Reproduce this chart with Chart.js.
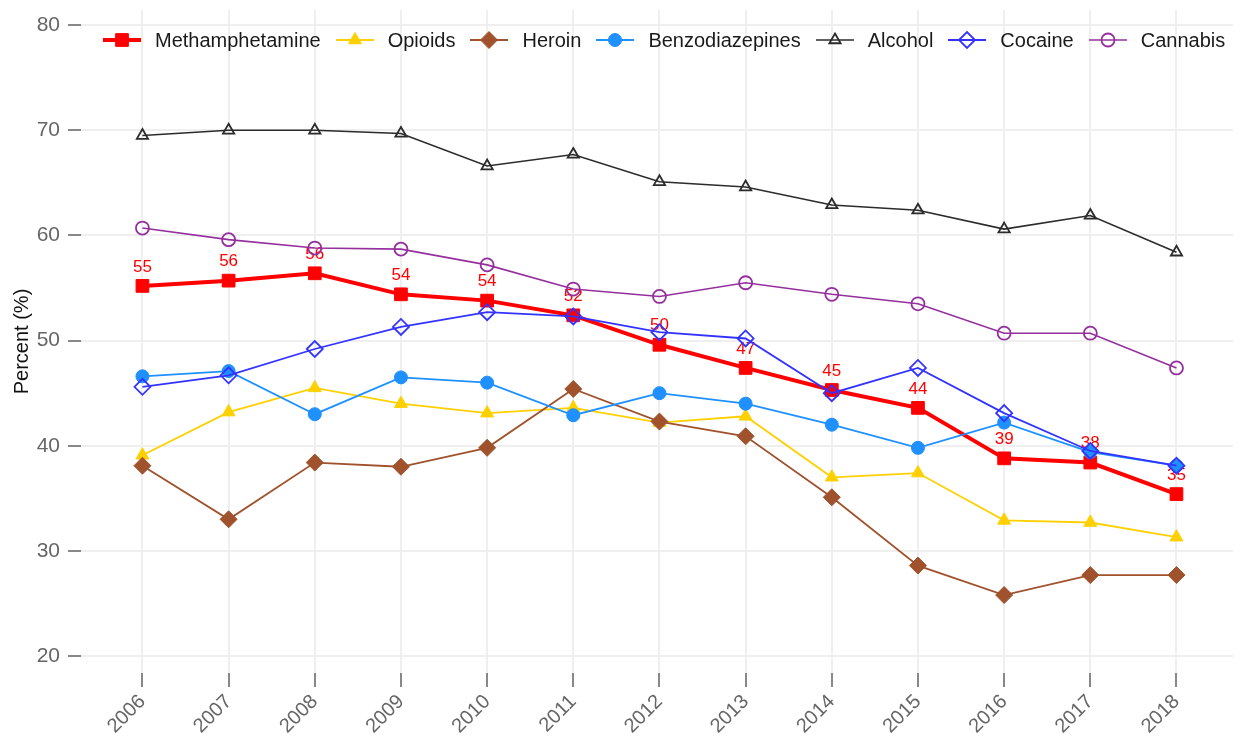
<!DOCTYPE html>
<html>
<head>
<meta charset="utf-8">
<script src="https://cdn.jsdelivr.net/npm/chart.js@4.4.1/dist/chart.umd.min.js"></script>
<style>
  html, body { margin: 0; padding: 0; background: #fff; }
  #wrap { position: relative; width: 1243px; height: 738px; }
  #legenda { position: absolute; left: 103px; top: 30px; height: 20px; display: flex; align-items: center;
             font: 20px "Liberation Sans", Arial, sans-serif; color: #1a1a1a; line-height: 20px; white-space: nowrap; }
  .item { display: flex; align-items: center; margin-right: 15px; }
  .item canvas { margin-right: 14px; }
</style>
</head>
<body>
<div id="wrap">
  <canvas id="grafico" width="1243" height="738"></canvas>
  <div id="legenda"></div>
</div>
<script>
const anos = [2006, 2007, 2008, 2009, 2010, 2011, 2012, 2013, 2014, 2015, 2016, 2017, 2018];
const metanfetamina = [55.2, 55.7, 56.4, 54.4, 53.8, 52.4, 49.6, 47.4, 45.3, 43.6, 38.8, 38.4, 35.4];
const opioides = [39.1, 43.2, 45.5, 44.0, 43.1, 43.6, 42.2, 42.8, 37.0, 37.4, 32.9, 32.7, 31.3];
const heroina = [38.1, 33.0, 38.4, 38.0, 39.8, 45.4, 42.3, 40.9, 35.1, 28.6, 25.8, 27.7, 27.7];
const benzodiazepinas = [46.6, 47.1, 43.0, 46.5, 46.0, 42.9, 45.0, 44.0, 42.0, 39.8, 42.2, 39.4, 38.1];
const alcool = [69.5, 70.0, 70.0, 69.7, 66.6, 67.7, 65.1, 64.6, 62.9, 62.4, 60.6, 61.9, 58.4];
const cocaina = [45.6, 46.7, 49.2, 51.3, 52.7, 52.3, 50.8, 50.2, 45.0, 47.4, 43.1, 39.5, 38.1];
const cannabis = [60.7, 59.6, 58.8, 58.7, 57.2, 54.9, 54.2, 55.5, 54.4, 53.5, 50.7, 50.7, 47.4];
const ticksY = [20, 30, 40, 50, 60, 70, 80];

const FONTE = '"Liberation Sans", Arial, sans-serif';

function serie(label, valores, cor, largura, estilo, raio, preenchido, ordem) {
    return {
        label: label,
        data: valores.map((v, i) => ({ x: anos[i], y: v })),
        borderColor: cor,
        borderWidth: largura,
        pointStyle: estilo,
        pointRadius: raio,
        pointHoverRadius: raio,
        pointBackgroundColor: preenchido ? cor : 'rgba(0,0,0,0)',
        pointBorderColor: cor,
        pointBorderWidth: preenchido ? 1 : 1.8,
        tension: 0,
        order: ordem
    };
}

const datasets = [
    serie('Methamphetamine', metanfetamina, '#ff0000', 4, 'rect', 9, true, 7),
    serie('Opioids', opioides, '#ffd000', 1.8, 'triangle', 7.5, true, 6),
    serie('Heroin', heroina, '#a0522d', 1.8, 'rectRot', 8.5, true, 5),
    serie('Benzodiazepines', benzodiazepinas, '#1e90ff', 1.8, 'circle', 6.5, true, 4),
    serie('Alcohol', alcool, '#2b2b2b', 1.6, 'triangle', 6.5, false, 3),
    serie('Cocaine', cocaina, '#3333ff', 1.8, 'rectRot', 8, false, 2),
    serie('Cannabis', cannabis, '#952f9e', 1.6, 'circle', 6.5, false, 1)
];

// rótulos em vermelho só para a metanfetamina
const rotulosMeta = {
    id: 'rotulosMeta',
    afterDatasetDraw(chart, args) {
        if (args.index !== 0) return;
        const ctx = chart.ctx;
        ctx.save();
        ctx.fillStyle = '#ff0000';
        ctx.font = '17px ' + FONTE;
        ctx.textAlign = 'center';
        ctx.textBaseline = 'middle';
        args.meta.data.forEach((p, i) => {
            ctx.fillText(String(Math.round(metanfetamina[i])), p.x, p.y - 19);
        });
        ctx.restore();
    }
};

const ctx = document.getElementById('grafico').getContext('2d');

const grafico = new Chart(ctx, {
    type: 'line',
    data: { datasets: datasets },
    options: {
        responsive: false,
        animation: false,
        devicePixelRatio: 1,
        layout: { padding: { top: 1, left: 0, right: 0, bottom: 0 } },
        plugins: {
            legend: { display: false },
            tooltip: { enabled: false }
        },
        scales: {
            x: {
                type: 'linear',
                min: 2005.287,
                max: 2018.656,
                afterBuildTicks: s => { s.ticks = anos.map(v => ({ value: v })); },
                afterFit: s => { s.height = 65; s.paddingLeft = 0; s.paddingRight = 0; },
                border: { display: false },
                grid: { color: '#efefef', lineWidth: 2, tickLength: 14, tickColor: '#888', tickWidth: 2 },
                ticks: {
                    autoSkip: false,
                    minRotation: 45,
                    maxRotation: 45,
                    padding: 3,
                    color: '#666',
                    font: { family: FONTE, size: 20 },
                    callback: v => String(v)
                }
            },
            y: {
                min: 18.386,
                max: 81.44,
                afterBuildTicks: s => { s.ticks = ticksY.map(v => ({ value: v })); },
                afterFit: s => { s.width = 81; s.paddingTop = 0; s.paddingBottom = 0; },
                border: { display: false },
                grid: { color: '#efefef', lineWidth: 2, tickLength: 13, tickColor: '#888', tickWidth: 2 },
                ticks: {
                    padding: 8,
                    color: '#666',
                    font: { family: FONTE, size: 21 }
                },
                title: {
                    display: true,
                    text: 'Percent (%)',
                    color: '#111',
                    font: { family: FONTE, size: 20 },
                    padding: { top: 10, bottom: 0 }
                }
            }
        }
    },
    plugins: [rotulosMeta]
});

// legenda em HTML com linha + marcador
function desenharIcone(ds) {
    const c = document.createElement('canvas');
    c.width = 38;
    c.height = 20;
    const g = c.getContext('2d');
    g.strokeStyle = ds.borderColor;
    g.lineWidth = ds.borderWidth;
    g.beginPath();
    g.moveTo(0, 10);
    g.lineTo(38, 10);
    g.stroke();
    g.fillStyle = ds.pointBackgroundColor;
    g.strokeStyle = ds.pointBorderColor;
    g.lineWidth = ds.pointBorderWidth;
    if (Chart.helpers && Chart.helpers.drawPoint) {
        Chart.helpers.drawPoint(g, { pointStyle: ds.pointStyle, radius: ds.pointRadius, borderWidth: ds.pointBorderWidth, rotation: 0 }, 19, 10);
    }
    return c;
}

const legenda = document.getElementById('legenda');
datasets.forEach(ds => {
    const item = document.createElement('div');
    item.className = 'item';
    item.appendChild(desenharIcone(ds));
    const txt = document.createElement('span');
    txt.textContent = ds.label;
    item.appendChild(txt);
    legenda.appendChild(item);
});
</script>
</body>
</html>
